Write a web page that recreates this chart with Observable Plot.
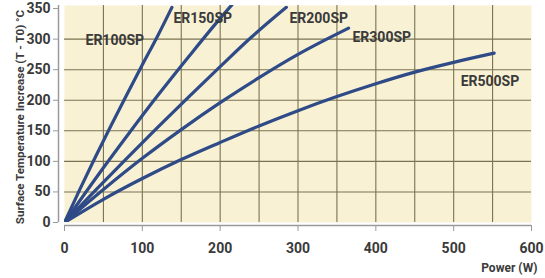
<!DOCTYPE html>
<html>
<head>
<meta charset="utf-8">
<script src="https://cdn.jsdelivr.net/npm/d3@7"></script>
<script src="https://cdn.jsdelivr.net/npm/@observablehq/plot@0.6"></script>
<style>
  html, body { margin: 0; padding: 0; background: #ffffff; }
  svg { display: block; }
</style>
</head>
<body>
<div id="chart"></div>
<script>
// Series: power (W) and surface temperature increase (°C)
const er100Power = [0, 20, 40, 60, 80, 100, 120, 138];
const er100Temp  = [0, 55, 108, 159, 209, 258, 306, 352];
const er150Power = [0, 40, 80, 120, 160, 200, 215];
const er150Temp  = [0, 72, 141, 208, 272, 334, 356];
const er200Power = [0, 40, 80, 120, 160, 200, 240, 285];
const er200Temp  = [0, 53, 105, 156, 206, 255, 303, 352];
const er300Power = [0, 50, 100, 150, 200, 250, 300, 340, 365];
const er300Temp  = [0, 54, 105, 152, 196, 237, 275, 302, 318];
const er500Power = [0, 50, 100, 150, 200, 250, 300, 350, 400, 450, 500, 552];
const er500Temp  = [0, 38, 72, 103, 131, 158, 183, 206, 227, 246, 262, 277];

const seriesNames = ["ER100SP", "ER150SP", "ER200SP", "ER300SP", "ER500SP"];
const labelPower = [27, 140, 289, 370, 509];
const labelTemp  = [297, 334, 334, 302, 230];

const xTicks = [0, 100, 200, 300, 400, 500, 600];
const yTicks = [0, 50, 100, 150, 200, 250, 300, 350];
const xGrid = [50, 100, 150, 200, 250, 300, 350, 400, 450, 500, 550];
const yGrid = [50, 100, 150, 200, 250, 300];

const powers = [er100Power, er150Power, er200Power, er300Power, er500Power];
const temps = [er100Temp, er150Temp, er200Temp, er300Temp, er500Temp];
const rows = [];
seriesNames.forEach((name, i) => {
  powers[i].forEach((p, j) => rows.push({series: name, power: p, temp: temps[i][j]}));
});
const labels = seriesNames.map((name, i) => ({name, power: labelPower[i], temp: labelTemp[i]}));

const font = "Roboto, sans-serif";
const ink = "#3a3a3a";
const gridColor = "#7a7352";
const lineColor = "#2e4a87";

const chart = Plot.plot({
  width: 545,
  height: 278,
  marginLeft: 64,
  marginRight: 14,
  marginTop: 5,
  marginBottom: 56,
  style: {fontFamily: font, background: "#ffffff", color: ink},
  x: {domain: [0, 600]},
  y: {domain: [0, 355]},
  marks: [
    Plot.frame({fill: "#f8f1d4", stroke: null}),
    Plot.ruleX(xGrid, {stroke: gridColor, strokeWidth: 1.1}),
    Plot.ruleY(yGrid, {stroke: gridColor, strokeWidth: 1.1}),
    Plot.line(rows, {x: "power", y: "temp", z: "series", stroke: lineColor,
      strokeWidth: 3.2, curve: "monotone-x", clip: true, strokeLinecap: "round"}),
    Plot.text(labels, {x: "power", y: "temp", text: "name", textAnchor: "start",
      fontSize: 14, fontWeight: "bold", fill: ink, fontFamily: font}),
    // x axis
    Plot.ruleY([0], {dy: 3, stroke: "#9a9a9a", strokeWidth: 1.5}),
    Plot.axisX({ticks: xTicks, tickSize: 6, tickPadding: 12, dy: 3, stroke: "#9a9a9a",
      fontSize: 14, fontWeight: "bold", fill: ink, fontFamily: font, label: null}),
    Plot.text(["Power (W)"], {frameAnchor: "bottom-right", dx: 6, dy: 49,
      fontSize: 12, fontWeight: "bold", fill: ink, fontFamily: font, textAnchor: "end"}),
    // y axis
    Plot.ruleX([0], {dx: -6, stroke: "#9a9a9a", strokeWidth: 1.5}),
    Plot.axisY({ticks: yTicks, tickSize: 5, tickPadding: 3, dx: -6, stroke: "#9a9a9a",
      fontSize: 14, fontWeight: "bold", fill: ink, fontFamily: font, label: null}),
    Plot.text(["Surface Temperature Increase (T - T0) °C"], {frameAnchor: "left", dx: -44, dy: 3, rotate: -90,
      textAnchor: "middle", fontSize: 11.6, fontWeight: "bold", fill: ink, fontFamily: font})
  ]
});
document.getElementById("chart").appendChild(chart);
</script>
</body>
</html>
